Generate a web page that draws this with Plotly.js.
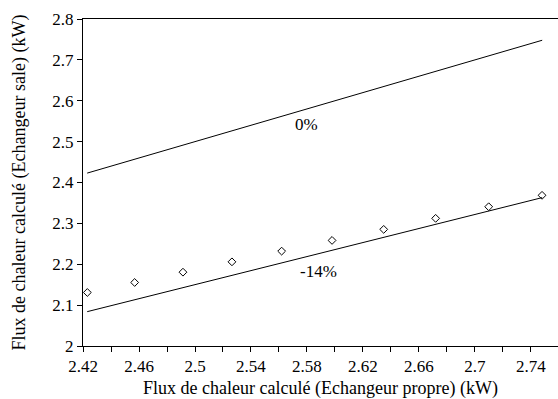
<!DOCTYPE html>
<html>
<head>
<meta charset="utf-8">
<script src="https://cdn.plot.ly/plotly-3.0.1.min.js"></script>
<style>html,body{margin:0;padding:0;background:#fff;}#chart{width:558px;height:399px;}</style>
</head>
<body>
<div id="chart"></div>
<script>
var refX = [2.423, 2.748];
var refY0 = [2.423, 2.748];
var refY14 = [2.084, 2.363];
var ptsX = [2.4231, 2.4569, 2.4914, 2.5264, 2.5619, 2.5979, 2.6348, 2.6719, 2.7098, 2.7479];
var ptsY = [2.1309, 2.1554, 2.1806, 2.2059, 2.2321, 2.2583, 2.2853, 2.3123, 2.3407, 2.3686];
var labels = [{text: '0%', x: 2.580, y: 2.543}, {text: '-14%', x: 2.588, y: 2.183}];

var fam = 'Liberation Serif';
var tickFont = {family: fam, size: 17, color: '#000'};
var titleFont = {family: fam, size: 18, color: '#000'};

var traces = [
  {x: refX, y: refY0, mode: 'lines', line: {color: '#000', width: 1}, hoverinfo: 'skip'},
  {x: refX, y: refY14, mode: 'lines', line: {color: '#000', width: 1}, hoverinfo: 'skip'},
  {x: ptsX, y: ptsY, mode: 'markers', marker: {symbol: 'diamond-open', size: 6, color: '#000', line: {width: 1, color: '#000'}}}
];

var layout = {
  width: 558, height: 399,
  margin: {l: 83, r: 0, t: 19, b: 53},
  showlegend: false,
  paper_bgcolor: '#fff', plot_bgcolor: '#fff',
  font: {family: fam, size: 17, color: '#000'},
  xaxis: {
    range: [2.42, 2.7593], tick0: 2.42, dtick: 0.04, tickformat: '.2~f',
    ticks: 'outside', ticklen: 5, tickwidth: 1, tickcolor: '#000', tickfont: tickFont,
    minor: {dtick: 0.02, tick0: 2.42, ticks: 'outside', ticklen: 5, tickwidth: 1, tickcolor: '#000'},
    showline: true, linecolor: '#000', linewidth: 1, mirror: true,
    showgrid: false, zeroline: false,
    title: {text: 'Flux de chaleur calculé (Echangeur propre) (kW)', font: titleFont, standoff: 8}
  },
  yaxis: {
    range: [2, 2.8], dtick: 0.1, tickformat: '.1~f',
    ticks: 'outside', ticklen: 5, tickwidth: 1, tickcolor: '#000', tickfont: tickFont,
    showline: true, linecolor: '#000', linewidth: 1,
    showgrid: false, zeroline: false,
    title: {text: 'Flux de chaleur calculé (Echangeur sale) (kW)', font: titleFont, standoff: 22}
  },
  annotations: labels.map(function(l){return {text: l.text, x: l.x, y: l.y, xref: 'x', yref: 'y', showarrow: false, font: {family: fam, size: 17, color: '#000'}};})
};

Plotly.newPlot('chart', traces, layout, {displayModeBar: false, staticPlot: true});
</script>
</body>
</html>
